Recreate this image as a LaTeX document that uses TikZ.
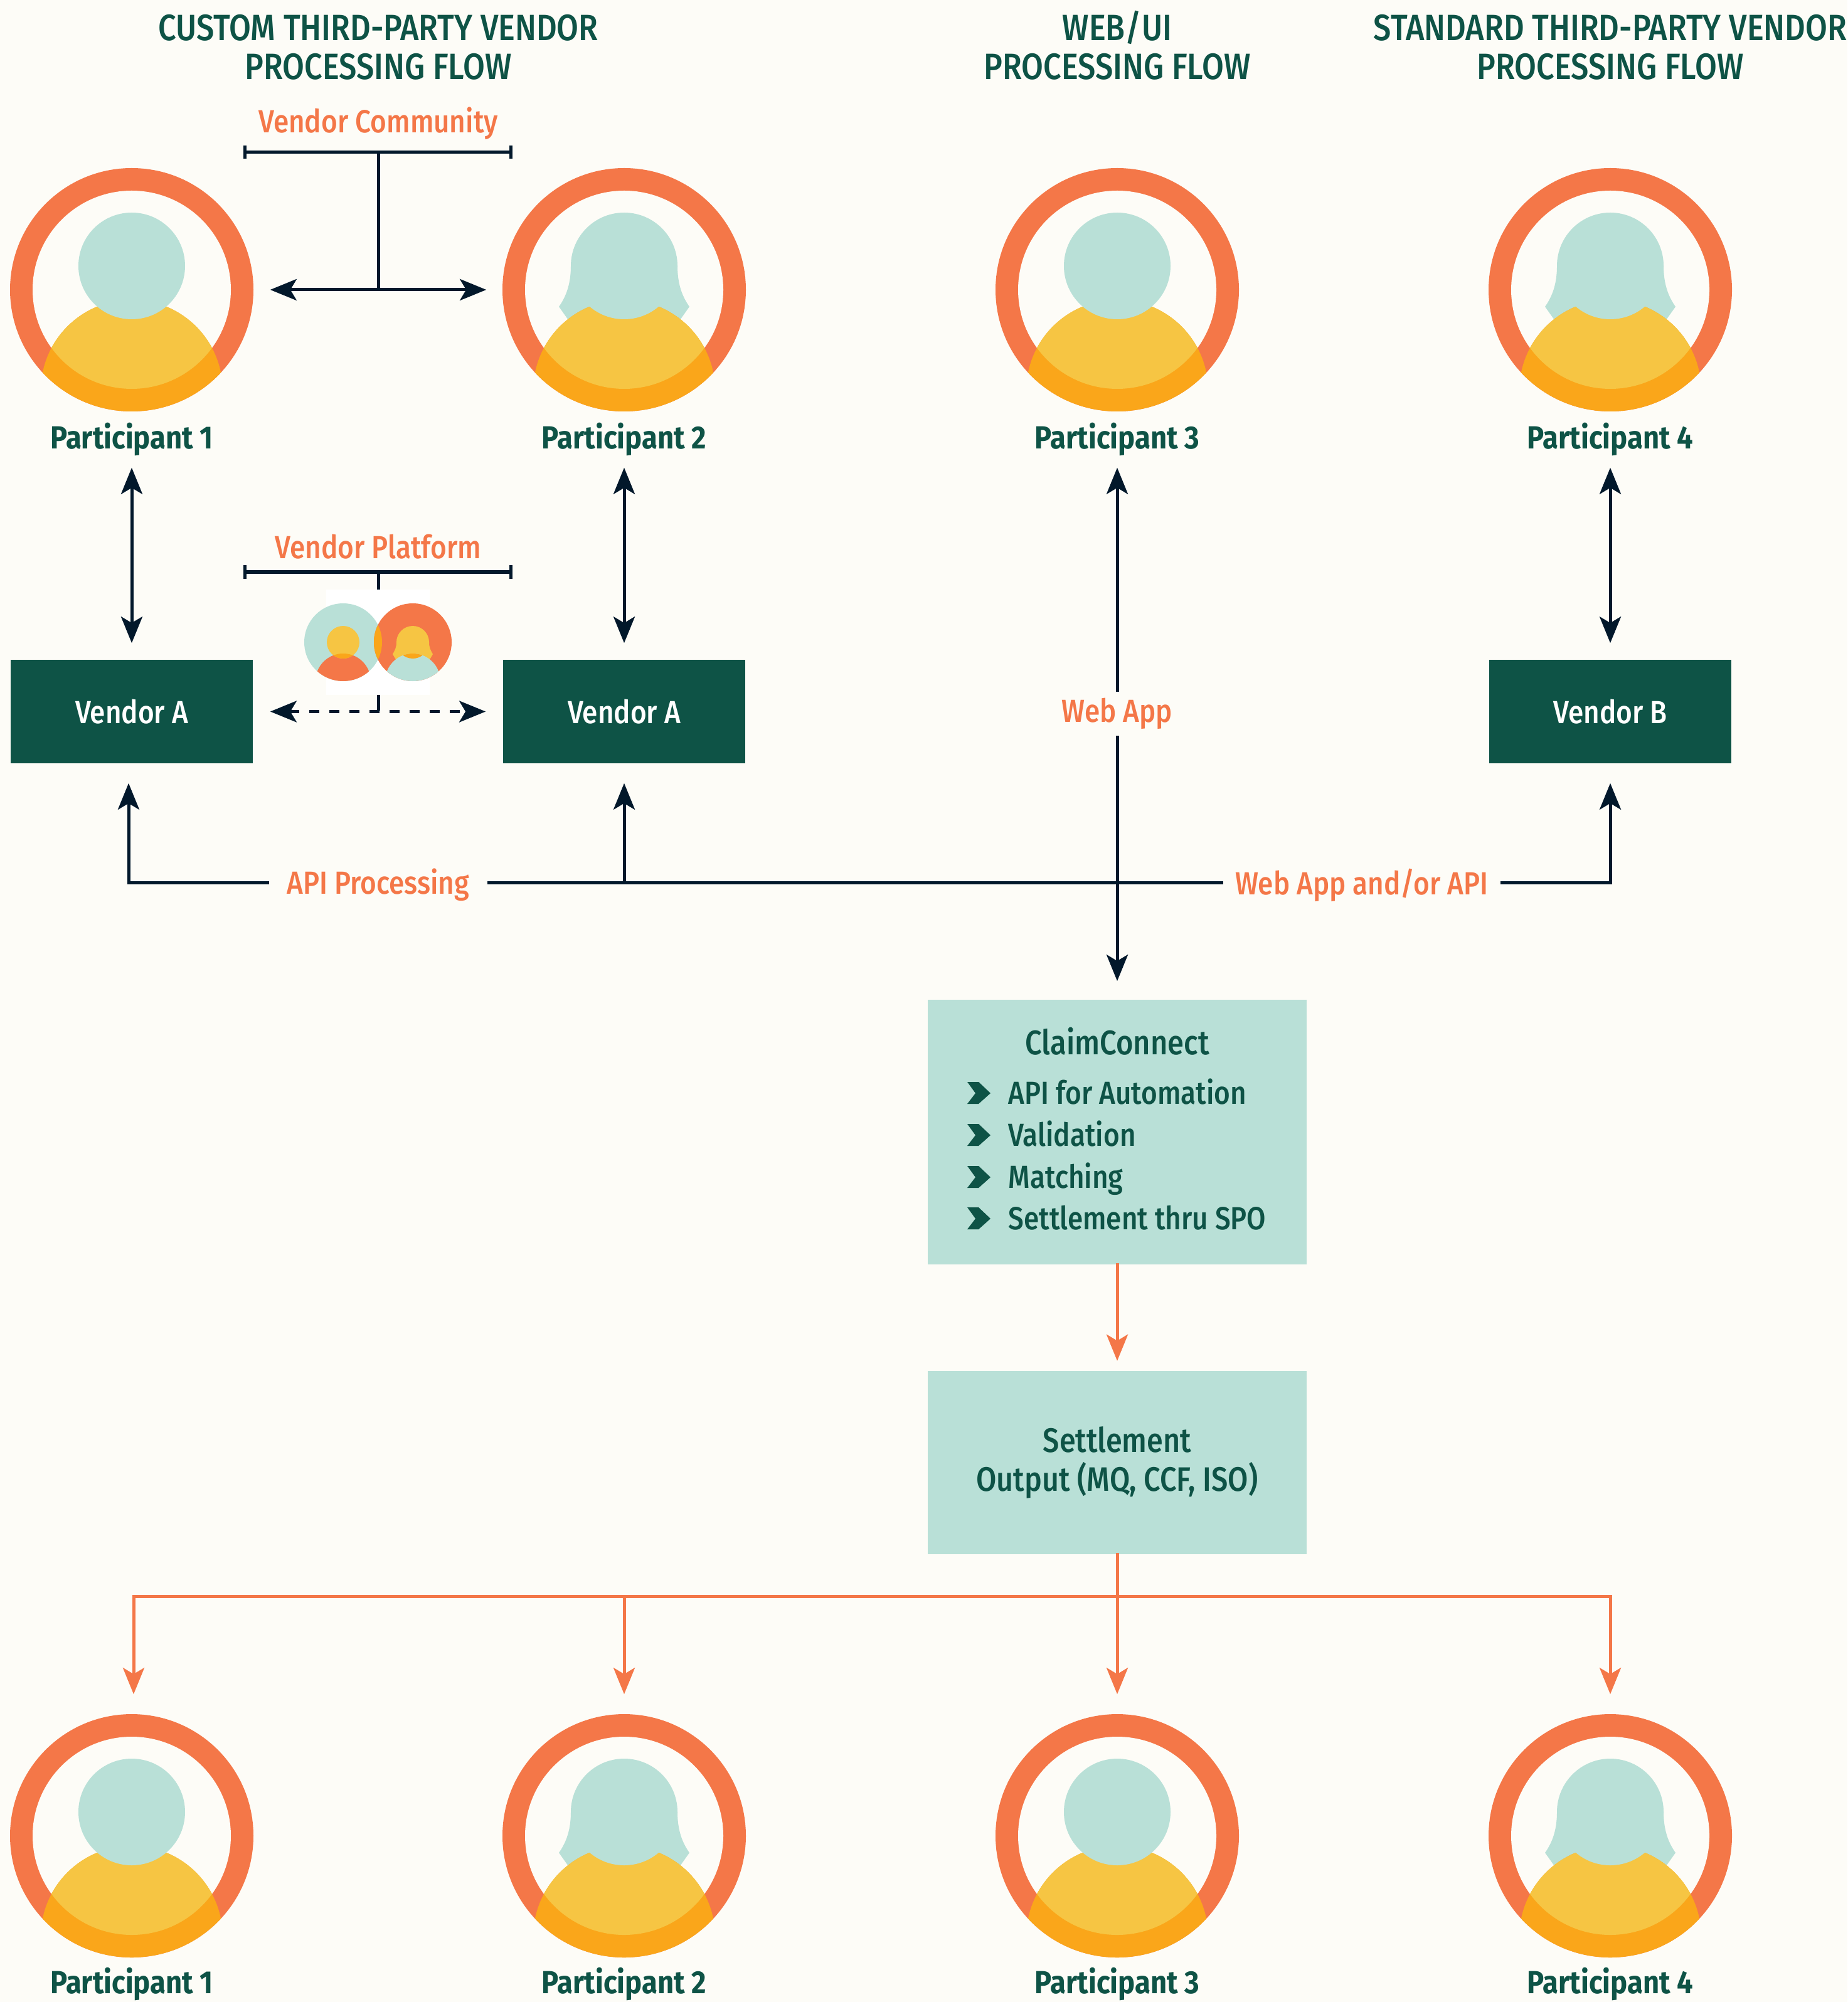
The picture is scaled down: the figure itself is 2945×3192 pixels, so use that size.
\documentclass[tikz,border=0pt]{standalone}
\usepackage{fontspec}
\setmainfont{Fira Sans Medium}[FakeStretch=0.865]
\newfontfamily\strongfont{Fira Sans}[FakeStretch=0.89]
\usetikzlibrary{arrows.meta}

\definecolor{paper}{HTML}{FDFCF7}
\definecolor{coral}{HTML}{F47748}
\definecolor{mint}{HTML}{B9E0D7}
\definecolor{forest}{HTML}{0E5346}
\definecolor{ink}{HTML}{02182B}
\definecolor{yolk}{HTML}{F6C543}
\definecolor{amber}{HTML}{FAA61A}

\tikzset{
  ring/.pic={
    \fill [coral] (0,0) circle [radius=194];
    \fill [paper] (0,0) circle [radius=158];
  },
  bust/.pic={
    \begin{scope}
      \clip (0,0) circle [radius=194];
      \fill [amber] (0,161) circle [radius=145];
    \end{scope}
    \begin{scope}
      \clip (0,0) circle [radius=158];
      \fill [yolk] (0,161) circle [radius=145];
    \end{scope}
    \fill [mint] (0,-38) circle [radius=85];
  },
  man/.pic={
    \pic {ring};
    \pic {bust};
  },
  woman/.pic={
    \pic {ring};
    \fill [mint] (-85,-38) -- (85,-38) .. controls (85,-10) and (92,10) .. (104,27)
      -- (70,75) -- (-70,75) -- (-104,27) .. controls (-92,10) and (-85,-10) .. (-85,-38) -- cycle;
    \pic {bust};
  }
}

\begin{document}
\begin{tikzpicture}[
    x=0.01cm,y=-0.01cm,
    >={Stealth[length=4.2mm,width=3.4mm,inset=1mm]},
    slot/.style={circle,inner sep=0,minimum size=3.88cm},
    head/.style={text=forest,font=\fontsize{16.6}{17.6}\selectfont,align=center},
    plabel/.style={text=forest,font=\fontsize{14.5}{17}\strongfont\bfseries,inner sep=0,minimum height=6mm},
    tag/.style={text=coral,font=\fontsize{14.5}{17}\selectfont,fill=paper,inner xsep=2.3mm,inner ysep=1mm},
    vendor/.style={fill=forest,text=white,font=\fontsize{14.5}{17}\selectfont,inner sep=0,minimum width=3.86cm,minimum height=1.65cm},
    panel/.style={fill=mint,text=forest,font=\fontsize{15.4}{17.4}\selectfont,align=center,inner sep=0,minimum width=6.03cm},
    item/.style={text=forest,font=\fontsize{14.5}{17}\selectfont,anchor=base west,inner sep=0},
    link/.style={draw=ink,line width=0.5mm,line cap=rect},
    both/.style={link,<->},
    oneway/.style={link,->,shorten >=3.1mm},
    feed/.style={draw=coral,line width=0.5mm,line cap=rect},
    drop/.style={feed,->}
    ]

    \fill [paper] (0,0) rectangle (2945,3192);
    \useasboundingbox (0,0) rectangle (2945,3192);

    % headings
    \node [head] (flow1) at (603,75) {CUSTOM THIRD-PARTY VENDOR\\PROCESSING FLOW};
    \node [head] (flow2) at (1781,72) {WEB/UI\\PROCESSING FLOW};
    \node [head] (flow3) at (2567,75) {STANDARD THIRD-PARTY VENDOR\\PROCESSING FLOW};

    % participants, top and bottom rows
    \foreach \n/\px/\kind in {1/210/man,2/995/woman,3/1781/man,4/2567/woman} {
      \node [slot] (top\n) at (\px,462) {};
      \pic at (top\n) {\kind};
      \node [plabel] (lab\n) at (\px,700) {Participant \n};
      \node [slot] (low\n) at (\px,2927) {};
      \pic at (low\n) {\kind};
      \node [plabel] (end\n) at (\px,3163) {Participant \n};
    }

    % vendors
    \node [vendor] (ven1) at (210,1134.5) {Vendor A};
    \node [vendor] (ven2) at (995,1134.5) {Vendor A};
    \node [vendor] (ven3) at (2567,1134.5) {Vendor B};

    % central boxes
    \node [panel,minimum height=4.22cm] (claim) at (1781,1805) {};
    \node [panel,minimum height=2.91cm] (settle) at (1781,2332) {Settlement\\Output (MQ, CCF, ISO)};
    \node [text=forest,font=\fontsize{15.5}{17}\selectfont,anchor=base,inner sep=0] (title) at (1781,1681) {ClaimConnect};
    \foreach \y/\what in {1760/API for Automation,1827/Validation,1894/Matching,1960/Settlement thru SPO} {
      \fill [forest] (1542,\y) -- (1560,\y) -- (1579,\y-17) -- (1560,\y-35) -- (1542,\y-35) -- (1555,\y-17) -- cycle;
      \node [item] (row\y) at (1607,\y) {\what};
    }

    % vendor community
    \node [tag,fill=none] (comm) at (603,197) {Vendor Community};
    \coordinate (commL) at (388,243);
    \coordinate (commR) at (817,243);
    \coordinate (commM) at (603,243);
    \draw [link,line cap=butt,{Bar[width=2.1mm]}-{Bar[width=2.1mm]}] (commL) -- (commR);
    \draw [link] (commM) -- (603,461);
    \draw [both,shorten <=2.6mm,shorten >=2.5mm] (top1.east) -- (top2.west);

    % participant to vendor
    \foreach \n in {1,2} {
      \draw [both,shorten <=1.5mm,shorten >=2.6mm] (lab\n.south) -- (ven\n.north);
    }
    \draw [both,shorten <=1.5mm,shorten >=2.6mm] (lab4.south) -- (ven3.north);

    % vendor platform
    \node [tag,fill=none] (plat) at (603,872) {Vendor Platform};
    \coordinate (platL) at (388,912);
    \coordinate (platR) at (817,912);
    \coordinate (platM) at (603,912);
    \draw [link,line cap=butt,{Bar[width=2.1mm]}-{Bar[width=2.1mm]}] (platL) -- (platR);
    \draw [link] (platM) -- (603,1130);
    \draw [both,line cap=butt,dash pattern=on 1.6mm off 1.6mm,shorten <=2.7mm,shorten >=2.7mm] (ven1.east) -- (ven2.west);
    \fill [white] (520,940) rectangle (685,1108);

    % the two small people
    \fill [mint] (547,1024) circle [radius=62];
    \fill [coral] (658,1024) circle [radius=62];
    \begin{scope}
      \clip (547,1024) circle [radius=62];
      \fill [amber] (658,1024) circle [radius=62];
      \fill [coral] (547,1086) circle [radius=44];
    \end{scope}
    \fill [yolk] (547,1024) circle [radius=26];
    \begin{scope}
      \clip (547,1024) circle [radius=26];
      \fill [amber] (547,1086) circle [radius=44];
    \end{scope}
    \fill [yolk] (632,1024) arc [start angle=180,end angle=360,radius=26]
      .. controls (684,1032) and (686,1036) .. (690,1043) -- (680,1060) -- (636,1060)
      -- (626,1043) .. controls (630,1036) and (632,1032) .. (632,1024) -- cycle;
    \begin{scope}
      \clip (658,1024) circle [radius=62];
      \fill [mint] (658,1086) circle [radius=44];
    \end{scope}
    \begin{scope}
      \clip (658,1024) circle [radius=26];
      \fill [amber] (658,1086) circle [radius=44];
    \end{scope}

    % input lines
    \coordinate (busA) at (205,1407);
    \coordinate (busB) at (995,1407);
    \coordinate (busC) at (2567,1407);
    \draw [link] (busA) -- (busC);
    \draw [oneway] (busA) -- (busA |- ven1.south);
    \draw [oneway] (busB) -- (ven2.south);
    \draw [oneway] (busC) -- (ven3.south);
    \draw [both,shorten <=1.5mm,shorten >=2.9mm] (lab3.south) -- (claim.north);
    \node [tag] (web) at (1781,1138) {Web App};
    \node [tag,inner xsep=2.9mm] (api) at (603,1411) {API Processing};
    \node [tag,inner xsep=1.9mm] (mixed) at (2171,1411) {Web App and/or API};

    % output lines
    \draw [drop,shorten >=1.6mm] (claim.south) -- (settle.north);
    \coordinate (outA) at (213,2545);
    \coordinate (outC) at (1781,2545);
    \coordinate (outD) at (2567,2545);
    \draw [feed] (outA) -- (outD);
    \draw [feed] (settle.south) -- (outC);
    \draw [drop,shorten >=3.1mm] (outA) -- (outA |- low1.north);
    \draw [drop,shorten >=3.1mm] (outA -| low2) -- (low2.north);
    \draw [drop,shorten >=3.1mm] (outC) -- (low3.north);
    \draw [drop,shorten >=3.1mm] (outD) -- (low4.north);
  \end{tikzpicture}
\end{document}
